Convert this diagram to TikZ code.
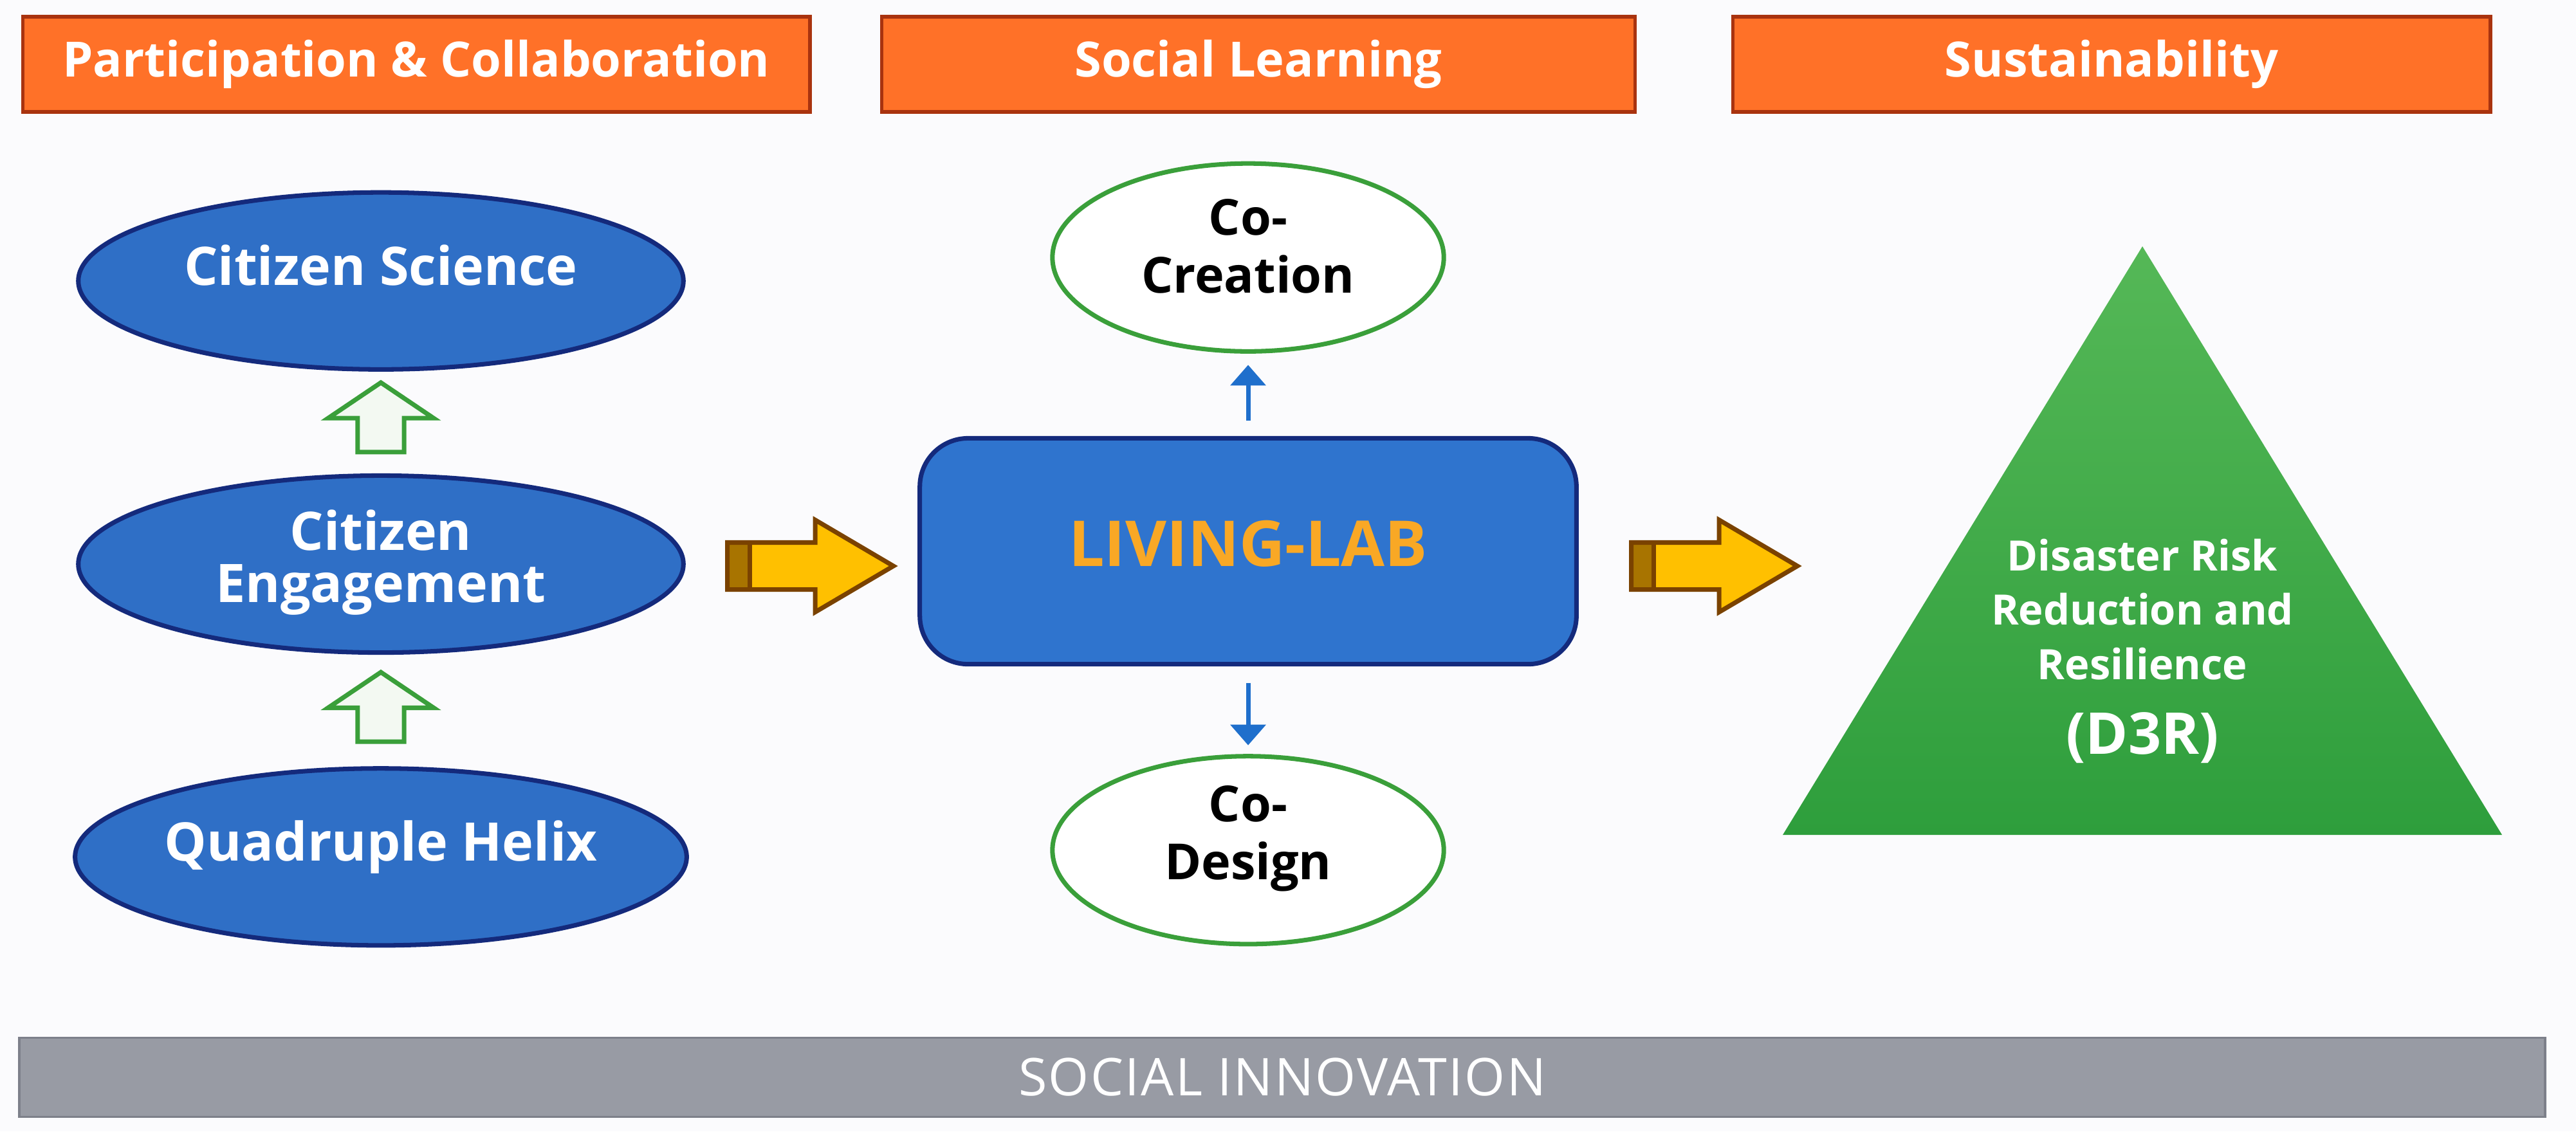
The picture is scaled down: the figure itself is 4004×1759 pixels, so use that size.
\documentclass[tikz,border=0pt]{standalone}
\usepackage{fontspec}
\setmainfont{Open Sans}
\usetikzlibrary{positioning, arrows.meta, shapes.geometric, shapes.arrows, calc}

\definecolor{pagebg}{HTML}{FBFBFD}
\definecolor{hdrfill}{HTML}{FF7128}
\definecolor{hdrdraw}{HTML}{A9330F}
\definecolor{ovalfill}{HTML}{2F6FC6}
\definecolor{ovaldraw}{HTML}{142A7C}
\definecolor{labfill}{HTML}{2F74CE}
\definecolor{labtext}{HTML}{F9A825}
\definecolor{leafgreen}{HTML}{3A9F3A}
\definecolor{leafpale}{HTML}{F3F9F2}
\definecolor{arrowblue}{HTML}{1F6FCC}
\definecolor{goldfill}{HTML}{FFC000}
\definecolor{golddraw}{HTML}{7A4200}
\definecolor{goldtail}{HTML}{A87400}
\definecolor{trilight}{HTML}{55B857}
\definecolor{tridark}{HTML}{2E9E3C}
\definecolor{barfill}{HTML}{989BA4}
\definecolor{bardraw}{HTML}{7D808A}

\begin{document}
\begin{tikzpicture}[
  x=0.01cm, y=-0.01cm,
  header/.style={draw=hdrdraw, line width=1.5pt, fill=hdrfill, minimum height=1.48cm,
    inner sep=0pt, outer sep=0pt, text=white, font=\fontsize{21.5}{25}\selectfont\bfseries},
  oval/.style={ellipse, draw=ovaldraw, line width=2pt, fill=ovalfill, minimum width=9.4cm,
    minimum height=2.75cm, inner sep=0pt, outer sep=0pt, text=white, align=center,
    text depth=0.5cm, font=\fontsize{23.5}{23}\selectfont\bfseries},
  cobubble/.style={ellipse, draw=leafgreen, line width=2pt, fill=white, minimum width=6.08cm,
    minimum height=2.92cm, inner sep=0pt, outer sep=0pt, align=center, text depth=0.36cm,
    font=\fontsize{22}{25.5}\selectfont\bfseries},
  labbox/.style={draw=ovaldraw, line width=2pt, fill=labfill, rounded corners=0.75cm,
    minimum width=10.2cm, minimum height=3.51cm, outer sep=0pt, text=labtext,
    text depth=0.24cm, font=\fontsize{28}{30}\selectfont\bfseries},
  hollow/.style={single arrow, draw=leafgreen, line width=2pt, fill=leafpale, rotate=90,
    anchor=tail, minimum height=1.08cm, minimum width=1.57cm, inner xsep=0pt, inner ysep=0.325cm,
    single arrow head extend=0.46cm, single arrow tip angle=112},
  goldarrow/.style={single arrow, draw=golddraw, line width=2pt, fill=goldfill, anchor=tail,
    minimum height=2.58cm, minimum width=1.36cm, inner xsep=0pt, inner ysep=0.33cm,
    single arrow head extend=0.35cm, single arrow tip angle=61,
    path picture={
      \fill[goldtail] (path picture bounding box.south west) rectangle ([xshift=0.35cm]path picture bounding box.north west);
      \draw[golddraw, line width=2pt] ([xshift=0.35cm]path picture bounding box.south west) -- ([xshift=0.35cm]path picture bounding box.north west);}},
  thin/.style={draw=arrowblue, line width=2pt, -{Triangle[width=0.54cm, length=0.32cm]}},
  banner/.style={draw=bardraw, line width=1pt, fill=barfill, minimum width=39.24cm,
    minimum height=1.23cm, inner sep=0pt, text=white,
    font=\fontsize{23}{26}\selectfont\addfontfeature{LetterSpace=3}}
]
  \fill[pagebg] (0,0) rectangle (4004,1759);
  \useasboundingbox (0,0) rectangle (4004,1759);

  % column headers
  \node[header, minimum width=12.23cm] (partic) at (647,100) {Participation \& Collaboration};
  \node[header, minimum width=11.70cm] (social) at (1956,100) {Social Learning};
  \node[header, minimum width=11.77cm] (sustain) at (3282,100) {Sustainability};

  % left column
  \node[oval, text depth=0.25cm] (engage) at (592,877) {Citizen\\Engagement};
  \node[oval, above=1.65cm of engage] (science) {Citizen Science};
  \node[oval, below=1.80cm of engage] (helix) {Quadruple Helix};
  \node[hollow] (up1) at ($(engage.north)+(0,-33)$) {};
  \node[hollow] (up2) at ($(helix.north)+(0,-38)$) {};

  % living lab
  \node[labbox] (lab) at (1940,857) {LIVING-LAB};
  \node[cobubble, above=1.35cm of lab] (creation) {Co-\\Creation};
  \node[cobubble, below=1.43cm of lab, text depth=0.55cm] (design) {Co-\\Design};
  \draw[thin, shorten <=0.27cm, shorten >=0.21cm] (lab.north) -- (creation.south);
  \draw[thin, shorten <=0.29cm, shorten >=0.17cm] (lab.south) -- (design.north);

  \node[goldarrow] (toLab) at (1127,880) {};
  \node[goldarrow] (toGoal) at (2532,880) {};

  % outcome
  \shade[top color=trilight, bottom color=tridark] (3330,383) -- (3889,1298) -- (2771,1298) -- cycle;
  \node[text=white, align=center, font=\fontsize{18.5}{24}\selectfont\bfseries] (goal) at (3330,1012)
    {Disaster Risk\\Reduction and\\Resilience\\[9pt]{\fontsize{25.5}{28}\selectfont (D3R)}};

  \node[banner] (innov) at (1993,1675) {SOCIAL INNOVATION};
\end{tikzpicture}
\end{document}
